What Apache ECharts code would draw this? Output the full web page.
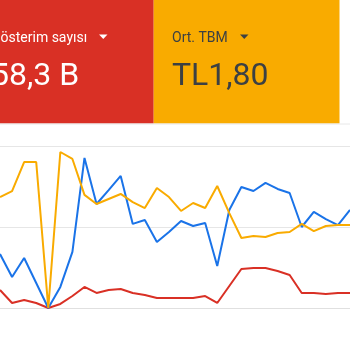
<!DOCTYPE html>
<html>
<head>
<meta charset="utf-8">
<script src="https://cdn.jsdelivr.net/npm/echarts@6/dist/echarts.min.js"></script>
<style>
html,body{margin:0;padding:0;background:#fff;overflow:hidden;}
#c{width:350px;height:350px;}
</style>
</head>
<body>
<div id="c"></div>
<script>
// Card texts
var cardTitles = ['Gösterim sayısı', 'Ort. TBM'];
var cardValues = ['58,3 B', 'TL1,80'];

// 30 daily points (labels not shown in the picture)
var categories = ['1','2','3','4','5','6','7','8','9','10','11','12','13','14','15',
                  '16','17','18','19','20','21','22','23','24','25','26','27','28','29','30'];

// Normalised values (0 = bottom line, 100 = top gridline)
var impressions = [33.3,19.1,30.9,15.4,0,13.0,34.6,92.6,64.2,72.8,81.5,51.9,54.3,40.7,46.9,
                   53.7,50.6,52.5,25.9,60.5,74.7,72.2,77.2,73.5,71.0,50.0,59.3,54.9,51.2,60.5];
var avgCpc = [68.5,72.2,90.1,90.1,0,96.3,92.0,69.8,64.2,67.3,70.4,65.4,61.7,74.1,68.5,
              59.9,64.8,61.7,75.3,58.6,43.2,44.4,43.8,46.3,46.9,51.9,47.5,50.6,51.2,51.2];
var thirdMetric = [11.1,3.1,4.9,3.1,0,2.5,7.4,13.0,9.3,11.1,11.7,9.3,8.0,6.2,6.2,
                   6.2,6.2,7.4,3.1,13.6,24.1,24.7,24.7,22.8,20.4,9.3,9.3,8.6,9.3,9.3];

var chart = echarts.init(document.getElementById('c'), null, {renderer:'canvas'});
var dark = '#3c4043';
chart.setOption({
  animation: false,
  backgroundColor: '#fff',
  grid: {left: -4, right: -7, top: 146, bottom: 42, containLabel: false},
  xAxis: {
    type: 'category', data: categories, boundaryGap: false,
    axisLine: {show: true, lineStyle: {color: '#e0e0e0', width: 1}},
    axisTick: {show: false}, axisLabel: {show: false}, splitLine: {show: false}
  },
  yAxis: {
    type: 'value', min: 0, max: 100, interval: 50,
    axisLine: {show: false}, axisTick: {show: false}, axisLabel: {show: false},
    splitLine: {show: true, lineStyle: {color: '#e6e6e6', width: 1}}
  },
  series: [
    {type: 'line', data: thirdMetric, symbol: 'none', lineStyle: {color: '#d93025', width: 2}},
    {type: 'line', data: impressions, symbol: 'none', lineStyle: {color: '#1a73e8', width: 2}},
    {type: 'line', data: avgCpc, symbol: 'none', lineStyle: {color: '#f9ab00', width: 2}}
  ],
  graphic: [
    {type: 'rect', shape: {x: -27, y: 0, width: 180.7, height: 123.5}, style: {fill: '#d93025'}},
    {type: 'rect', shape: {x: 153.7, y: 0, width: 185.8, height: 123.5}, style: {fill: '#f9ab00'}},
    {type: 'line', shape: {x1: 0, y1: 124, x2: 350, y2: 124}, style: {stroke: '#e8e8e8', lineWidth: 1}},
    {type: 'text', x: -9, y: 38, style: {text: cardTitles[0], font: '14px Roboto', fill: '#fff', verticalAlign: 'middle'}},
    {type: 'polygon', shape: {points: [[99,34.5],[107.5,34.5],[103.25,39]]}, style: {fill: '#fff'}},
    {type: 'text', x: -9, y: 76.5, style: {text: cardValues[0], font: '32px Roboto', fill: '#fff', verticalAlign: 'middle'}},
    {type: 'text', x: 172, y: 38, style: {text: cardTitles[1], font: '14px Roboto', fill: dark, verticalAlign: 'middle'}},
    {type: 'polygon', shape: {points: [[240,34.5],[248.5,34.5],[244.25,39]]}, style: {fill: dark}},
    {type: 'text', x: 172, y: 76.5, style: {text: cardValues[1], font: '32px Roboto', fill: dark, verticalAlign: 'middle'}}
  ]
});
</script>
</body>
</html>
